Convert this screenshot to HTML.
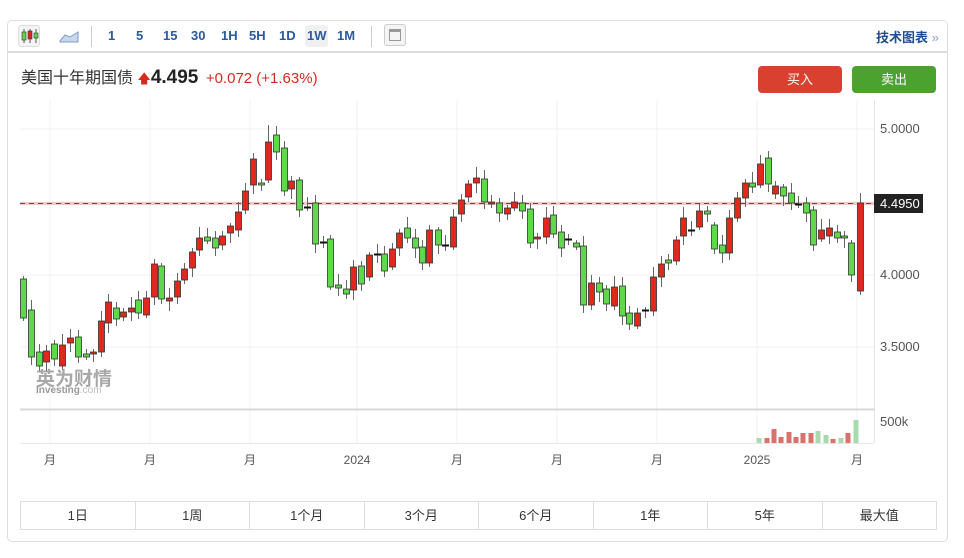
<!DOCTYPE html>
<html><head><meta charset="utf-8">
<style>
*{margin:0;padding:0;box-sizing:border-box}
body{width:964px;height:558px;background:#fff;font-family:"Liberation Sans","Noto Sans CJK SC",sans-serif;position:relative;overflow:hidden}
.card{position:absolute;left:7px;top:20px;width:941px;height:522px;border:1px solid #ddd;border-radius:5px}
.tb{position:absolute;left:7px;top:20px;width:941px;height:33px;border-bottom:2px solid #ddd}
.tb span{position:absolute;top:8px;font-size:13px;font-weight:bold;color:#2a5aa0}
.hdr{position:absolute;left:21px;top:64px;font-size:16px;color:#333}
.btn{position:absolute;top:66px;width:84px;height:27px;border-radius:4px;color:#fff;font-size:13px;text-align:center;line-height:27px}
.rng{position:absolute;left:20px;top:501px;width:917px;height:29px;border:1px solid #ddd;display:flex}
.rng div{flex:1;border-right:1px solid #ddd;text-align:center;line-height:27px;font-size:13px;color:#333}
.rng div:last-child{border-right:none}
</style></head><body>
<div class="card"></div>
<div class="tb">
 <div style="position:absolute;left:11px;top:5px;width:22px;height:22px;border:1px solid #ddd;border-radius:3px;background:#f4f4f4"></div>
 <svg style="position:absolute;left:13px;top:7px" width="20" height="18"><line x1="4" y1="2" x2="4" y2="16" stroke="#555"/><rect x="2" y="5" width="4" height="8" fill="#5fd44b" stroke="#333" stroke-width=".6"/><line x1="10" y1="2" x2="10" y2="16" stroke="#555"/><rect x="8" y="4" width="4" height="8" fill="#d9281e" stroke="#333" stroke-width=".6"/><line x1="16" y1="2" x2="16" y2="16" stroke="#555"/><rect x="14" y="6" width="4" height="5" fill="#5fd44b" stroke="#333" stroke-width=".6"/></svg>
 <svg style="position:absolute;left:52px;top:9px" width="20" height="14"><path d="M1 12 L6 6 L11 8 L19 3 L19 13 L1 13Z" fill="#c9d6ea" stroke="#7d9cc8"/></svg>
 <div style="position:absolute;left:84px;top:6px;width:1px;height:21px;background:#ccc"></div>
 <span style="left:101px">1</span><span style="left:129px">5</span><span style="left:156px">15</span><span style="left:184px">30</span><span style="left:214px">1H</span><span style="left:242px">5H</span><span style="left:272px">1D</span>
 <div style="position:absolute;left:298px;top:5px;width:23px;height:22px;background:#f0f0f0;border-radius:3px"></div>
 <span style="left:300px">1W</span><span style="left:330px">1M</span>
 <div style="position:absolute;left:364px;top:6px;width:1px;height:21px;background:#ccc"></div>
 <div style="position:absolute;left:377px;top:4px;width:22px;height:22px;border:1px solid #ccc;border-radius:3px;background:#f4f4f4"><div style="margin:4px;height:12px;border:1px solid #999;border-top:3px solid #999"></div></div>
 <span style="left:869px;top:7px;color:#1f4e96">技术图表 <b style="color:#8aa4cc;font-weight:normal">»</b></span>
</div>
<div class="hdr">美国十年期国债 <span style="color:#d9281e;font-size:13px">&#129093;</span><b style="font-size:19px;color:#222">4.495</b> <span style="color:#d9281e;font-size:15px;margin-left:3px">+0.072 (+1.63%)</span></div>
<div class="btn" style="left:758px;background:#d8402f">买入</div>
<div class="btn" style="left:852px;background:#4ca22f">卖出</div>
<svg id="ch" style="position:absolute;left:0;top:0" width="964" height="500"></svg>
<div style="position:absolute;left:36px;top:364px;font-size:19px;font-weight:bold;color:#9a9a9a;opacity:.85">英为财情</div>
<div style="position:absolute;left:36px;top:385px;font-size:10px;font-weight:bold;color:#9a9a9a">Investing<span style="font-weight:normal;color:#bbb">.com</span></div>
<div class="rng"><div>1日</div><div>1周</div><div>1个月</div><div>3个月</div><div>6个月</div><div>1年</div><div>5年</div><div>最大值</div></div>
<script>
var d=[[23,279,318],[31,310,357],[39,352,366],[46,362,351],[54,344,359],[62,366,345],[70,343,338],[78,337,357],[86,354,357],[93,354,352],[101,352,321],[108,323,302],[116,308,319],[123,317,312],[131,312,308],[138,300,313],[146,315,298],[154,297,264],[161,266,299],[169,301,298],[177,297,281],[184,280,269],[192,268,252],[199,250,238],[207,237,241],[215,238,248],[222,245,236],[230,233,226],[238,230,212],[245,210,191],[253,185,159],[261,183,185],[268,180,142],[276,135,152],[284,148,191],[291,189,181],[299,180,210],[307,207,207],[315,203,244],[323,242,242],[330,239,287],[338,285,288],[346,289,294],[353,290,267],[361,266,284],[369,277,255],[377,254,254],[384,254,271],[392,267,249],[399,248,233],[407,228,238],[415,238,248],[422,247,263],[429,263,230],[438,230,245],[445,245,245],[453,247,217],[461,214,200],[468,197,184],[476,183,178],[484,179,202],[491,204,202],[499,203,213],[507,214,208],[514,208,202],[522,203,211],[530,209,243],[537,239,237],[546,237,218],[553,215,234],[561,232,248],[568,239,239],[576,243,247],[583,246,305],[591,305,283],[599,283,292],[606,289,304],[614,306,287],[622,286,316],[629,313,324],[637,326,313],[645,310,310],[653,311,277],[661,277,264],[668,260,263],[676,261,240],[683,236,218],[691,230,230],[699,227,211],[707,211,214],[714,225,249],[722,245,253],[729,253,218],[737,218,198],[745,198,183],[752,183,187],[760,185,164],[768,158,184],[775,194,186],[783,187,196],[791,193,203],[798,204,204],[806,203,213],[813,210,245],[821,239,230],[829,236,228],[837,232,238],[844,236,238],[851,243,275],[860,291,203]];
var s='';
function L(x1,y1,x2,y2,c,w,da){s+='<line x1="'+x1+'" y1="'+y1+'" x2="'+x2+'" y2="'+y2+'" stroke="'+c+'" stroke-width="'+(w||1)+'"'+(da?' stroke-dasharray="'+da+'"':'')+'/>';}
[50,150,250,357,457,557,657,757,857].forEach(function(x){L(x,100,x,443,'#f0f0f0');});
[129,202,275,347].forEach(function(y){L(20,y,874,y,'#f0f0f0');});
L(20,409.5,874,409.5,'#d8d8d8',2);L(20,443.5,874,443.5,'#e8e8e8');L(874.5,100,874.5,443,'#e4e4e4');
L(20,203.5,874,203.5,'#f0c8c8',3);
L(20,203.5,874,203.5,'#804040',1,'5,4');
d.forEach(function(c,i){var x=c[0],o=c[1],cl=c[2],t=Math.min(o,cl),b=Math.max(o,cl);
 var h=t-3-((i*7)%9),l=b+3+((i*5)%8);
 if(i==110){h=188;l=292;} if(i==109){l=295;} if(i==32){h=125;}
 L(x+.5,h,x+.5,l,'#666');
 if(b-t<2){L(x-3,t+.5,x+4,t+.5,'#111',2);}
 else s+='<rect x="'+(x-2.5)+'" y="'+t+'" width="6" height="'+(b-t)+'" fill="'+(cl<o?'#e0281d':'#5fd84a')+'" stroke="#333" stroke-width="0.8"/>';
});
[[759,438,'g'],[767,438,'r'],[774,429,'r'],[781,437,'r'],[789,432,'r'],[796,437,'r'],[803,433,'r'],[811,433,'r'],[818,431,'g'],[826,435,'g'],[833,439,'r'],[841,438,'g'],[848,433,'r'],[856,420,'g']].forEach(function(v){s+='<rect x="'+(v[0]-2.5)+'" y="'+v[1]+'" width="5" height="'+(443-v[1])+'" fill="'+(v[2]=='r'?'#d8726b':'#a9d9ac')+'"/>';});
s+='<rect x="874" y="194" width="49" height="19" fill="#222"/><text x="880" y="208" fill="#fff" font-size="13">4.4950</text>';
[[5,133],[4,279],[3.5,351]].forEach(function(v){s+='<text x="880" y="'+v[1]+'" fill="#555" font-size="13">'+v[0].toFixed(4)+'</text>';});
s+='<text x="880" y="426" fill="#555" font-size="13">500k</text>';
[[50,'月'],[150,'月'],[250,'月'],[357,'2024'],[457,'月'],[557,'月'],[657,'月'],[757,'2025'],[857,'月']].forEach(function(v){s+='<text x="'+v[0]+'" y="464" text-anchor="middle" fill="#555" font-size="12">'+v[1]+'</text>';});
document.getElementById('ch').innerHTML=s;
</script>
</body></html>
